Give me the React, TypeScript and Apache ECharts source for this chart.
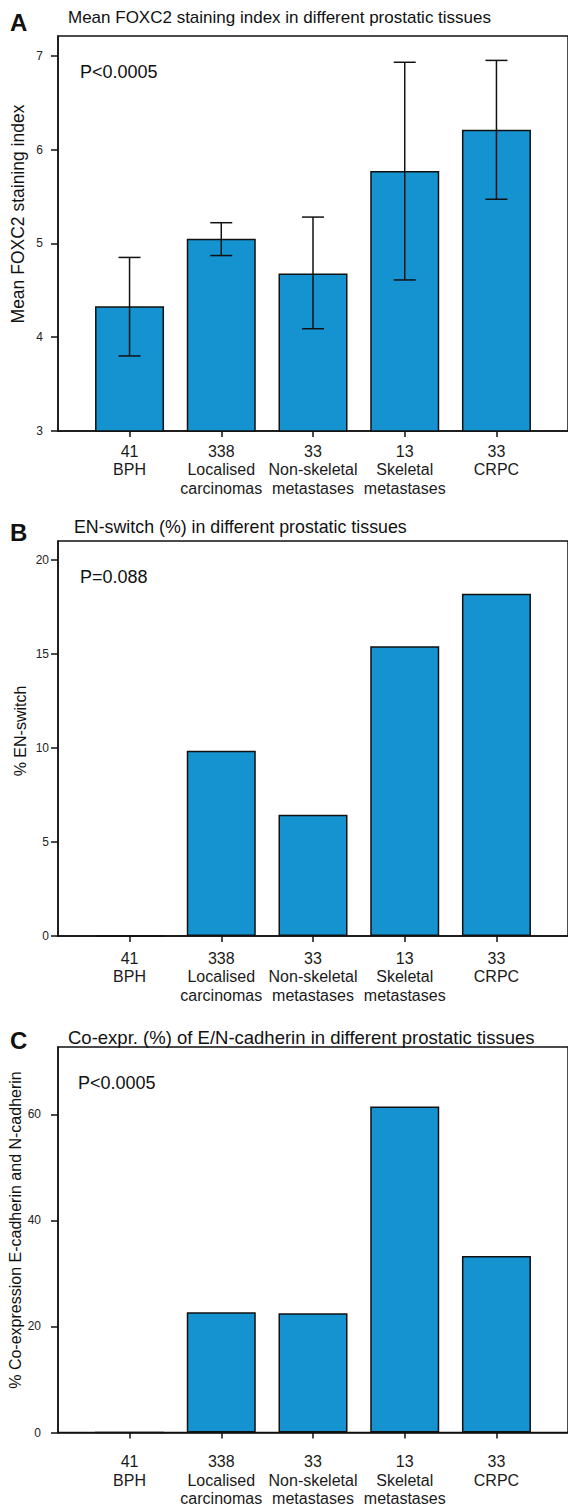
import React, { useEffect, useRef } from "react";
import * as echarts from "echarts";

const categories = ["BPH", "Localised\ncarcinomas", "Non-skeletal\nmetastases", "Skeletal\nmetastases", "CRPC"];
const counts = ["41", "338", "33", "13", "33"];
const foxc2Mean = [4.33, 5.05, 4.68, 5.77, 6.21];
const foxc2Low = [3.8, 4.87, 4.09, 4.61, 5.47];
const foxc2High = [4.85, 5.22, 5.28, 6.93, 6.95];
const enSwitch = [0, 9.85, 6.45, 15.4, 18.2];
const coExpr = [0, 22.7, 22.5, 61.5, 33.3];
const ticksA = [3, 4, 5, 6, 7];
const ticksB = [0, 5, 10, 15, 20];
const ticksC = [0, 20, 40, 60];
const positions = [0, 1, 2, 3, 4];

const FONT = "'Liberation Sans', Arial, sans-serif";
const BLUE = "#1593d1";

export default function App() {
  const ref = useRef<HTMLDivElement>(null);
  useEffect(() => {
    const chart = echarts.init(ref.current!, null, { renderer: "svg" });
    const gridTops = [36, 541, 1047];
    const gridH = 395;
    const grids = gridTops.map((t) => ({
      left: 58,
      top: t,
      height: gridH,
      width: 512,
      show: true,
      borderColor: "#111",
      borderWidth: 1.5,
      backgroundColor: "transparent",
    }));
    const xMargins = [11, 13, 20];
    const xAxes = [0, 1, 2].map((i) => ({
      type: "value",
      gridIndex: i,
      min: -0.78,
      max: 4.78,
      axisLine: { show: true, onZero: false, lineStyle: { color: "#111", width: 1.5 } },
      axisTick: { show: true, length: 6, customValues: positions, lineStyle: { color: "#111", width: 1.5 } },
      splitLine: { show: false },
      axisLabel: {
        customValues: positions,
        formatter: (v: number) => counts[Math.round(v)] + "\n" + categories[Math.round(v)],
        fontFamily: FONT,
        fontSize: 16,
        lineHeight: 18.5,
        color: "#1a1a1a",
        margin: xMargins[i],
      },
    }));
    const yDefs = [
      { min: 3, max: 7.21, ticks: ticksA, margin: 15 },
      { min: 0, max: 21, ticks: ticksB, margin: 9 },
      { min: 0, max: 72.7, ticks: ticksC, margin: 17 },
    ];
    const yAxes = yDefs.map((d, i) => ({
      type: "value",
      gridIndex: i,
      min: d.min,
      max: d.max,
      axisLine: { show: true, onZero: false, lineStyle: { color: "#111", width: 1.5 } },
      axisTick: { show: true, length: 7, customValues: d.ticks, lineStyle: { color: "#111", width: 1.5 } },
      splitLine: { show: false },
      axisLabel: { customValues: d.ticks, fontFamily: FONT, fontSize: 12, color: "#222", margin: d.margin },
    }));
    const barSeries = [foxc2Mean, enSwitch, coExpr].map((vals, i) => ({
      type: "bar",
      xAxisIndex: i,
      yAxisIndex: i,
      barWidth: 69,
      data: vals.map((v, k) => [positions[k], v]),
      itemStyle: { color: BLUE, borderColor: "#111", borderWidth: 1.5 },
      z: 2,
    }));
    const errSeries = {
      type: "custom",
      xAxisIndex: 0,
      yAxisIndex: 0,
      z: 5,
      encode: { x: 0, y: [1, 2] },
      data: positions.map((p, k) => [p, foxc2Low[k], foxc2High[k]]),
      renderItem: (params: any, api: any) => {
        const x = api.value(0);
        const pLo = api.coord([x, api.value(1)]);
        const pHi = api.coord([x, api.value(2)]);
        const cap = 11;
        const st = { stroke: "#111", lineWidth: 1.5 };
        return {
          type: "group",
          children: [
            { type: "line", shape: { x1: pLo[0], y1: pLo[1], x2: pHi[0], y2: pHi[1] }, style: st },
            { type: "line", shape: { x1: pHi[0] - cap, y1: pHi[1], x2: pHi[0] + cap, y2: pHi[1] }, style: st },
            { type: "line", shape: { x1: pLo[0] - cap, y1: pLo[1], x2: pLo[0] + cap, y2: pLo[1] }, style: st },
          ],
        };
      },
    };
    const txt = (x: number, y: number, text: string, fs: number, bold = false) => ({
      type: "text",
      x,
      y,
      style: {
        text,
        fontFamily: FONT,
        fontSize: fs,
        fontWeight: bold ? "bold" : "normal",
        fill: "#111",
        textVerticalAlign: "middle",
        textAlign: "left",
      },
    });
    const vtxt = (x: number, y: number, text: string, fs: number) => ({
      type: "text",
      x,
      y,
      rotation: Math.PI / 2,
      style: {
        text,
        fontFamily: FONT,
        fontSize: fs,
        fill: "#111",
        textVerticalAlign: "middle",
        textAlign: "center",
      },
    });
    chart.setOption({
      animation: false,
      backgroundColor: "#fff",
      grid: grids,
      xAxis: xAxes,
      yAxis: yAxes,
      series: [...barSeries, errSeries],
      graphic: [
        txt(10, 22, "A", 24, true),
        txt(68, 17, "Mean FOXC2 staining index in different prostatic tissues", 17),
        txt(80, 72, "P<0.0005", 18),
        vtxt(18, 214, "Mean FOXC2 staining index", 17.5),
        txt(10, 532, "B", 24, true),
        txt(74, 527, "EN-switch (%) in different prostatic tissues", 17.8),
        txt(80, 577, "P=0.088", 18),
        vtxt(20, 731, "% EN-switch", 16),
        txt(10, 1040, "C", 24, true),
        txt(68, 1037, "Co-expr. (%) of E/N-cadherin in different prostatic tissues", 18.5),
        txt(78, 1083, "P<0.0005", 18),
        vtxt(15, 1230, "% Co-expression E-cadherin and N-cadherin", 16),
      ],
    });
    return () => chart.dispose();
  }, []);
  return (
    <div
      ref={ref}
      style={{ position: "absolute", left: 0, top: 0, width: 568, height: 1508, background: "#fff" }}
    />
  );
}
